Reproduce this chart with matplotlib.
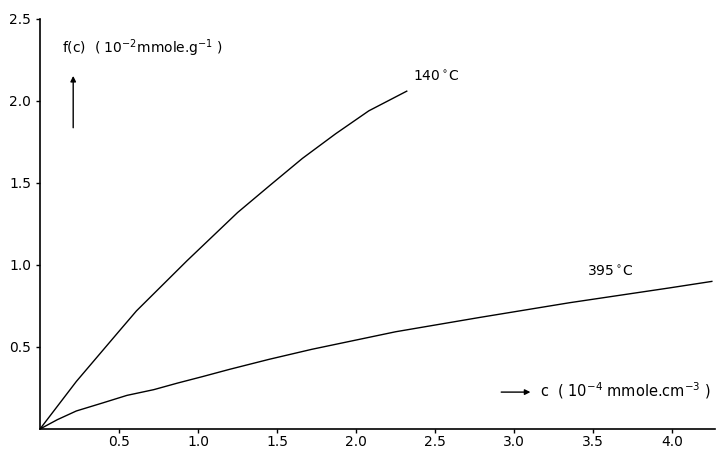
import numpy as np
import matplotlib.pyplot as plt

# values
c_140 = [0, 0.23, 0.50, 0.61, 0.93, 1.25, 1.46, 1.66, 1.87, 2.08, 2.32]
f_140 = [0, 0.29, 0.596, 0.72, 1.026, 1.32, 1.49, 1.65, 1.80, 1.94, 2.06]
c_395 = [0, 0.11, 0.23, 0.40, 0.55, 0.72, 0.87, 1.03, 1.20, 1.45, 1.72,
         2.25, 2.78, 3.35, 3.98, 4.25]
f_395 = [0, 0.057, 0.11, 0.16, 0.205, 0.24, 0.28, 0.32, 0.364, 0.425, 0.486,
         0.593, 0.68, 0.77, 0.86, 0.90]
xticks = [0.5, 1.0, 1.5, 2.0, 2.5, 3.0, 3.5, 4.0]
yticks = [0.5, 1.0, 1.5, 2.0, 2.5]

fig = plt.figure(figsize=(7.23, 4.5), dpi=100)
ax = fig.add_axes([40/723, 21/450, 675/723, 410/450])

ax.plot(c_140, f_140, color="black", lw=1.0)
ax.plot(c_395, f_395, color="black", lw=1.0)

ax.set_xlim(0, 4.27)
ax.set_ylim(0, 2.5)
ax.set_xticks(xticks)
ax.set_yticks(yticks)
ax.set_xticklabels(["%.1f" % v for v in xticks])
ax.set_yticklabels(["%.1f" % v for v in yticks])
ax.tick_params(length=3, width=1, labelsize=10, colors="black")
ax.tick_params(axis="x", pad=1)
for s in ["top", "right"]:
    ax.spines[s].set_visible(False)
for s in ["left", "bottom"]:
    ax.spines[s].set_linewidth(1.2)

ax.text(0.14, 2.29, r"f(c)  ( 10$^{-2}$mmole.g$^{-1}$ )", fontsize=10)
ax.annotate("", xy=(0.21, 2.17), xytext=(0.21, 1.82),
            arrowprops=dict(arrowstyle="-|>", color="black", lw=1, mutation_scale=8))
ax.text(2.36, 2.12, r"140$\,^{\circ}$C", fontsize=10)
ax.text(3.46, 0.93, r"395$\,^{\circ}$C", fontsize=10)
ax.annotate("", xy=(3.12, 0.225), xytext=(2.9, 0.225),
            arrowprops=dict(arrowstyle="-|>", color="black", lw=1, mutation_scale=8))
ax.text(3.16, 0.2, r"c  ( 10$^{-4}$ mmole.cm$^{-3}$ )", fontsize=10.5)

fig.savefig("out.png", dpi=100)
